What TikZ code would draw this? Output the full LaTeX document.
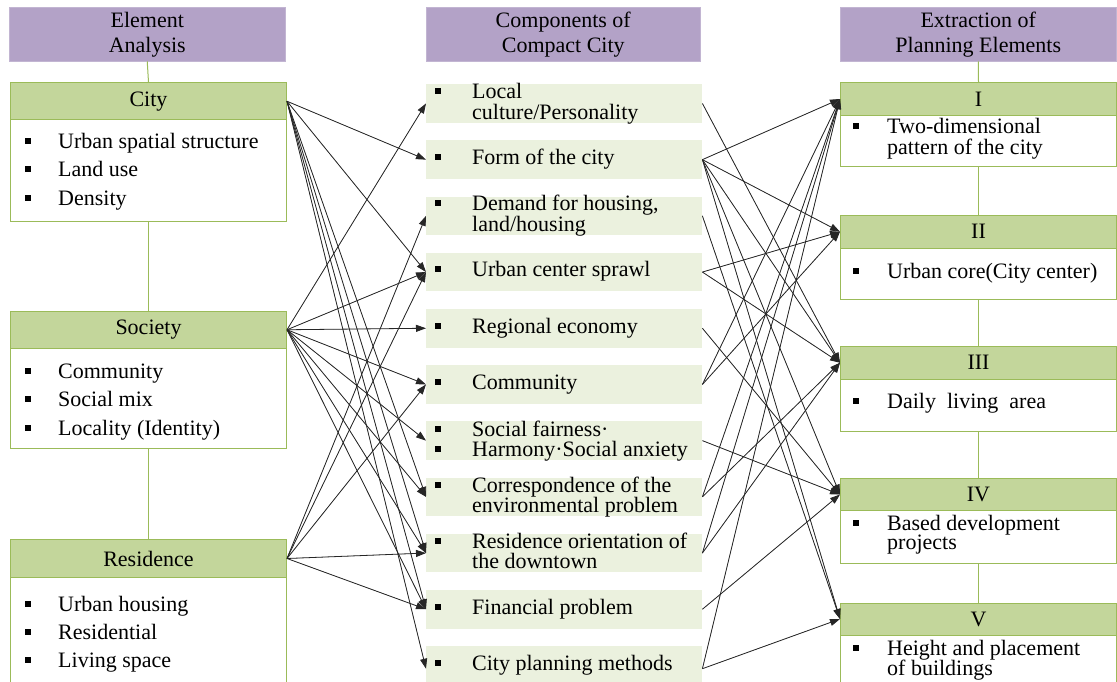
\documentclass[tikz,border=0pt]{standalone}
\usepackage{fontspec}
\setmainfont{Liberation Serif}
\usetikzlibrary{arrows.meta}
\definecolor{hpurple}{HTML}{B3A2C7}
\definecolor{ggreen}{HTML}{C3D69B}
\definecolor{gborder}{HTML}{9BBB59}
\definecolor{mgreen}{HTML}{EBF1DE}
\newcommand{\myfs}{\fontsize{22}{25}\selectfont}
\newcommand{\bl}[1]{\makebox[#1pt][l]{\rule[4.5pt]{6pt}{6pt}}}
\newcommand{\twol}[2]{\begin{tabular}[t]{@{}l@{}}#1\\#2\end{tabular}}
\tikzset{
  phead/.style={fill=hpurple, draw=hpurple!80, line width=0.5pt, anchor=north west, minimum width=276pt, minimum height=54pt, inner sep=0pt, align=center},
  ghead/.style={fill=ggreen, draw=gborder, line width=1pt, anchor=north west, minimum width=276pt, inner sep=0pt},
  gbody/.style={fill=white, draw=gborder, line width=1pt, anchor=north west, minimum width=276pt, inner sep=0pt},
  mbox/.style={fill=mgreen, anchor=north west, minimum width=276pt, minimum height=38.5pt, inner sep=0pt},
  itm/.style={anchor=base west, inner sep=0pt},
  itm2/.style={anchor=base west, inner sep=0pt, font=\fontsize{22}{19}\selectfont},
  itm3/.style={anchor=base west, inner sep=0pt, font=\fontsize{22}{17.8}\selectfont},
  link/.style={draw=gborder, line width=1pt},
  arr/.style={-{Triangle[length=10pt,width=7pt]}, line width=0.8pt, draw=black!85, fill=black!85},
}
\begin{document}
\begin{tikzpicture}[x=1pt,y=-1pt, every node/.style={font=\myfs}]
\useasboundingbox[fill=white] (0,0) rectangle (1117,682);

% ---------- left column ----------
\node[phead] (lhdr) at (9,7) {Element\\Analysis};
\node[ghead, minimum height=37.5pt] (cityh) at (10,82) {City};
\node[gbody, minimum height=101pt] (cityb) at (10,119.5) {};
\node[ghead, minimum height=36.5pt] (soch) at (10,311) {Society};
\node[gbody, minimum height=100pt] (socb) at (10,347.5) {};
\node[ghead, minimum height=38pt] (resh) at (10,539) {Residence};
\node[gbody, minimum height=115pt] (resb) at (10,577) {};
\draw[link] (lhdr.south) -- (cityh.north);
\draw[link] (cityb.south) -- (soch.north);
\draw[link] (socb.south) -- (resh.north);

\node[itm] (c1) at (25,149) {\bl{33}Urban spatial structure};
\node[itm] (c2) at (25,177) {\bl{33}Land use};
\node[itm] (c3) at (25,205) {\bl{33}Density};
\node[itm] (s1) at (25,378) {\bl{33}Community};
\node[itm] (s2) at (25,406) {\bl{33}Social mix};
\node[itm] (s3) at (25,435) {\bl{33}Locality (Identity)};
\node[itm] (h1) at (25,611) {\bl{33}Urban housing};
\node[itm] (h2) at (25,639) {\bl{33}Residential};
\node[itm] (h3) at (25,667) {\bl{33}Living space};

% ---------- middle column ----------
\node[phead, minimum width=274pt] (mhdr) at (426,7) {Components of\\Compact City};
\node[mbox] (m1) at (426,84) {};
\node[mbox] (m2) at (426,140.2) {};
\node[mbox] (m3) at (426,196.4) {};
\node[mbox] (m4) at (426,252.6) {};
\node[mbox] (m5) at (426,308.8) {};
\node[mbox] (m6) at (426,365) {};
\node[mbox] (m7) at (426,421.2) {};
\node[mbox] (m8) at (426,477.4) {};
\node[mbox] (m9) at (426,533.6) {};
\node[mbox] (m10) at (426,589.8) {};
\node[mbox, minimum height=45pt] (m11) at (426,646) {};

\node[itm2] (t1) at (435,99) {\twol{\bl{37}Local}{\hspace{37pt}culture/Personality}};
\node[itm] (t2) at (435,164.5) {\bl{37}Form of the city};
\node[itm2] (t3) at (435,210.5) {\twol{\bl{37}Demand for housing,}{\hspace{37pt}land/housing}};
\node[itm] (t4) at (435,276) {\bl{37}Urban center sprawl};
\node[itm] (t5) at (435,333) {\bl{37}Regional economy};
\node[itm] (t6) at (435,389.5) {\bl{37}Community};
\node[itm2] (t7) at (435,436) {\twol{\bl{37}Social fairness·}{\bl{37}Harmony·Social anxiety}};
\node[itm2] (t8) at (435,492) {\twol{\bl{37}Correspondence of the}{\hspace{37pt}environmental problem}};
\node[itm2] (t9) at (435,548) {\twol{\bl{37}Residence orientation of}{\hspace{37pt}the downtown}};
\node[itm] (t10) at (435,614) {\bl{37}Financial problem};
\node[itm] (t11) at (435,670.5) {\bl{37}City planning methods};

% ---------- right column ----------
\node[phead] (rhdr) at (840,7) {Extraction of\\Planning Elements};
\node[ghead, minimum height=33pt] (r1h) at (840,82) {I};
\node[gbody, minimum height=51.5pt] (r1b) at (840,115) {};
\node[ghead, minimum height=32.5pt] (r2h) at (840,215) {II};
\node[gbody, minimum height=51pt] (r2b) at (840,247.5) {};
\node[ghead, minimum height=32.5pt] (r3h) at (840,346) {III};
\node[gbody, minimum height=52pt] (r3b) at (840,378.5) {};
\node[ghead, minimum height=32pt] (r4h) at (840,478) {IV};
\node[gbody, minimum height=52.5pt] (r4b) at (840,510) {};
\node[ghead, minimum height=32pt] (r5h) at (840,602.5) {V};
\node[gbody, minimum height=60pt] (r5b) at (840,634.5) {};
\draw[link] (rhdr.south) -- (r1h.north);
\draw[link] (r1b.south) -- (r2h.north);
\draw[link] (r2b.south) -- (r3h.north);
\draw[link] (r3b.south) -- (r4h.north);
\draw[link] (r4b.south) -- (r5h.north);

\node[itm3] (p1) at (853,134) {\twol{\bl{34}Two-dimensional}{\hspace{34pt}pattern of the city}};
\node[itm] (p2) at (853,278) {\bl{34}Urban core(City center)};
\node[itm] (p3) at (853,408) {\bl{34}Daily\ \ living\ \ area};
\node[itm3] (p4) at (853,530) {\twol{\bl{34}Based development}{\hspace{34pt}projects}};
\node[itm3] (p5) at (853,655) {\twol{\bl{34}Height and placement}{\hspace{34pt}of buildings}};

% ---------- connectors: left -> middle ----------
\foreach \t in {m2,m4,m8,m9,m10,m11}
  \draw[arr] (cityh.east) -- (\t.west);
\foreach \t in {m1,m4,m5,m6,m7,m8,m9,m10}
  \draw[arr] (soch.east) -- (\t.west);
\foreach \t in {m3,m4,m6,m9,m10}
  \draw[arr] (resh.east) -- (\t.west);

% ---------- connectors: middle -> right ----------
\foreach \s/\t in {m1/r3h, m2/r1h, m2/r2h, m2/r3h, m2/r4h, m2/r5h, m3/r5h,
                   m4/r2h, m4/r3h, m5/r4h, m6/r1h, m6/r2h, m7/r4h,
                   m8/r1h, m8/r3h, m9/r1h, m9/r3h, m10/r4h, m11/r1h, m11/r5h}
  \draw[arr] (\s.east) -- (\t.west);
\end{tikzpicture}
\end{document}
